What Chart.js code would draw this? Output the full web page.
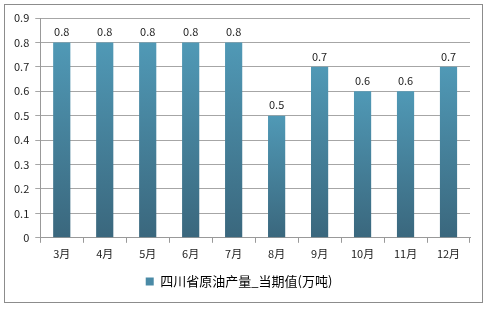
<!DOCTYPE html>
<html lang="zh">
<head>
<meta charset="UTF-8">
<title>四川省原油产量</title>
<script src="https://cdn.jsdelivr.net/npm/chart.js"></script>
<style>
  body { margin: 0; background: #fff; }
  .wrap { position: relative; width: 488px; height: 309px; }
  .frame { position: absolute; left: 4px; top: 4px; width: 479px; height: 299px; border: 1px solid #8c8c8c; box-sizing: border-box; pointer-events: none; }
</style>
</head>
<body>
<div class="wrap">
  <canvas id="grafico" width="488" height="309"></canvas>
  <div class="frame"></div>
</div>
<script>
const categories = ['3月', '4月', '5月', '6月', '7月', '8月', '9月', '10月', '11月', '12月'];
const values = [0.8, 0.8, 0.8, 0.8, 0.8, 0.5, 0.7, 0.6, 0.6, 0.7];
const seriesName = '四川省原油产量_当期值(万吨)';
const yTicks = [0, 0.1, 0.2, 0.3, 0.4, 0.5, 0.6, 0.7, 0.8, 0.9];

const fontFamily = '"Noto Sans CJK SC", "DejaVu Sans", sans-serif';

// gradient per bar, from its top down to the base
function barColor(ctx) {
  const chart = ctx.chart;
  if (!chart.chartArea || ctx.type !== 'data') return '#4a8aa6';
  const y = chart.scales.y;
  const top = y.getPixelForValue(ctx.raw);
  const base = y.getPixelForValue(0);
  const g = chart.ctx.createLinearGradient(0, top, 0, base);
  g.addColorStop(0, '#5099b6');
  g.addColorStop(1, '#3a677d');
  return g;
}

// value labels above each bar
const labelsPlugin = {
  id: 'valueLabels',
  afterDatasetsDraw(chart) {
    const c = chart.ctx;
    const meta = chart.getDatasetMeta(0);
    c.save();
    c.font = '11px ' + fontFamily;
    c.fillStyle = '#222';
    c.textAlign = 'center';
    c.textBaseline = 'bottom';
    meta.data.forEach((bar, i) => {
      c.fillText(String(values[i]), bar.x, bar.y - 5);
    });
    c.restore();
  }
};

new Chart(document.getElementById('grafico'), {
  type: 'bar',
  data: {
    labels: categories,
    datasets: [{
      label: seriesName,
      data: values,
      backgroundColor: barColor,
      barPercentage: 0.4,
      categoryPercentage: 1
    }]
  },
  options: {
    responsive: false,
    animation: false,
    layout: { padding: { top: 18, right: 18, left: 8, bottom: 11 } },
    plugins: {
      legend: {
        position: 'bottom',
        labels: {
          boxWidth: 8,
          boxHeight: 8,
          color: '#222',
          font: { family: fontFamily, size: 13 },
          padding: 11,
          generateLabels() {
            return [{ text: seriesName, fillStyle: '#4a8aa6', strokeStyle: '#4a8aa6', lineWidth: 0 }];
          }
        }
      },
      tooltip: { enabled: false }
    },
    scales: {
      x: {
        grid: { display: true, drawOnChartArea: false, drawTicks: true, tickLength: 5, color: '#999', offset: true },
        border: { color: '#999' },
        ticks: { color: '#222', font: { family: fontFamily, size: 11 }, padding: 4 }
      },
      y: {
        min: 0,
        max: 0.9,
        afterBuildTicks(scale) { scale.ticks = yTicks.map(v => ({ value: v })); },
        grid: { color: '#a6a6a6', tickLength: 5 },
        border: { color: '#999' },
        ticks: {
          color: '#222',
          font: { family: fontFamily, size: 11 },
          padding: 6,
          callback: v => v === 0 ? '0' : v.toFixed(1)
        }
      }
    }
  },
  plugins: [labelsPlugin]
});
</script>
</body>
</html>
